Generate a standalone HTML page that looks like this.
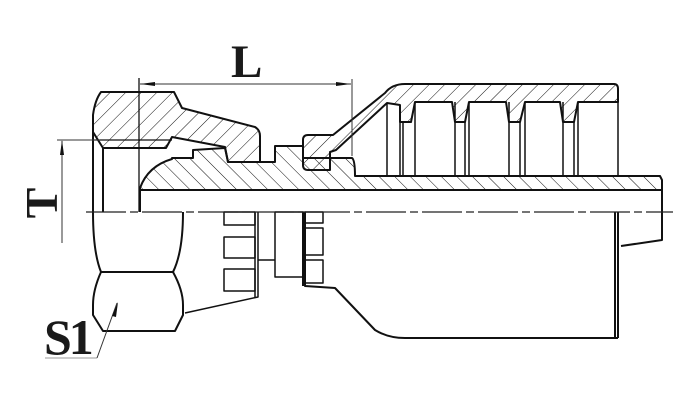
<!DOCTYPE html>
<html><head><meta charset="utf-8"><style>
html,body{margin:0;padding:0;background:#fff;width:690px;height:405px;overflow:hidden}
svg{display:block}
text{font-family:"Liberation Serif",serif;font-weight:bold;fill:#1a1a1a}
</style></head><body>
<svg width="690" height="405" viewBox="0 0 690 405" xmlns="http://www.w3.org/2000/svg">
<defs>
<pattern id="hf" patternUnits="userSpaceOnUse" width="11" height="11" patternTransform="rotate(45)">
<line x1="0" y1="0" x2="0" y2="11" stroke="#111" stroke-width="1"/></pattern>
<pattern id="hb" patternUnits="userSpaceOnUse" width="11" height="11" patternTransform="rotate(-45)">
<line x1="0" y1="0" x2="0" y2="11" stroke="#111" stroke-width="1"/></pattern>
</defs>
<g stroke="#111" stroke-width="2" fill="none" stroke-linejoin="round">
<path d="M101,92 L174,92 L182,108 L255,127 Q260,130 260,136 L260,162 L228,162 L225,147 L172,137 L166,148 L103,148 L93,132 L93,115 Q95,100 101,92 Z" fill="url(#hf)"/>
<line x1="93" y1="140" x2="172" y2="140" stroke-width="1.2"/>
<path d="M93,132 L93,212"/>
<path d="M103,148 L103,212"/>
<path d="M140,212 L140,188 Q148,166 172,159 L172,158 L193,158 L193,150 L225,148 L228,162 L275,162 L275,146 L303,146 L303,158 L352,158 Q355,160 355,176 L660,176 L662,180 L662,190 L140,190" fill="url(#hb)"/>
<line x1="140" y1="190" x2="140" y2="212"/>
<path d="M303,140 Q303,135 308,135 L333,135 L385,93 Q392,84 405,84 L614,84 Q618,84 618,89 L618,102 L578,102 L574,122 L563,122 L560,102 L525,102 L520,122 L509,122 L506,102 L469,102 L465,122 L455,122 L452,102 L415,102 L411,122 L400,122 L400,105 L387,103 L336,150 L330,152 L330,170 L308,170 Q303,170 303,165 Z" fill="url(#hf)"/>
<g stroke-width="1.5">
<path d="M387,103 L387,176 M400,122 L400,176 M403,122 L403,176"/>
<path d="M415,102 L415,176 M455,102 L455,176"/>
<path d="M465,122 L465,176 M469,102 L469,176"/>
<path d="M509,102 L509,176 M520,122 L520,176 M525,102 L525,176"/>
<path d="M563,102 L563,176 M574,122 L574,176 M578,102 L578,176"/>
<path d="M618,102 L618,176"/>
</g>
<path d="M662,190 L662,240 L621,246"/>
<path d="M615,212 L615,338 M618,212 L618,338"/>
<path d="M305,212 L305,286 L335,288 L375,330 Q388,338 405,338 L618,338"/>
<path d="M303,212 L303,286"/>
<g stroke-width="1.5">
<rect x="305" y="212" width="18" height="11"/>
<rect x="305" y="228" width="18" height="27"/>
<rect x="305" y="260" width="18" height="23"/>
<rect x="275" y="212" width="28" height="65"/>
<path d="M258,212 L258,297 L185,313 M255,212 L255,297"/>
<path d="M258,260 L275,260"/>
<rect x="224" y="212" width="31" height="13"/>
<rect x="224" y="237" width="31" height="21"/>
<rect x="224" y="269" width="31" height="22"/>
</g>
<path d="M93,212 Q93,252 101,272 L173,272 Q183,252 183,212"/>
<path d="M101,272 Q93,290 93,305 L93,315 L103,331 L175,331 L183,315 L183,305 Q183,290 173,272"/>
</g>
<line x1="86" y1="212" x2="673" y2="212" stroke="#222" stroke-width="1.2" stroke-dasharray="40,4,8,4"/>
<g stroke="#333" stroke-width="1" fill="#111">
<line x1="139" y1="78" x2="139" y2="212" stroke="#111" stroke-width="1.3"/>
<line x1="352" y1="79" x2="352" y2="156"/>
<line x1="140" y1="84" x2="351" y2="84"/>
<path d="M140,84 L155,82 L155,86 Z" stroke="none"/>
<path d="M351,84 L336,82 L336,86 Z" stroke="none"/>
<line x1="57" y1="140" x2="100" y2="140"/>
<line x1="62" y1="141" x2="62" y2="243"/>
<path d="M62,140 L60,155 L64,155 Z" stroke="none"/>
<line x1="45" y1="358" x2="97" y2="358" stroke="#999"/>
<line x1="97" y1="358" x2="117" y2="303"/>
<path d="M118,302 L112,316 L116,317 Z" stroke="none"/>
</g>
<text x="231" y="77" font-size="47">L</text>
<text x="0" y="0" font-size="46" transform="translate(57,203) rotate(-90)" text-anchor="middle">T</text>
<text x="44" y="354" font-size="50" letter-spacing="-3">S1</text>
</svg>
</body></html>
